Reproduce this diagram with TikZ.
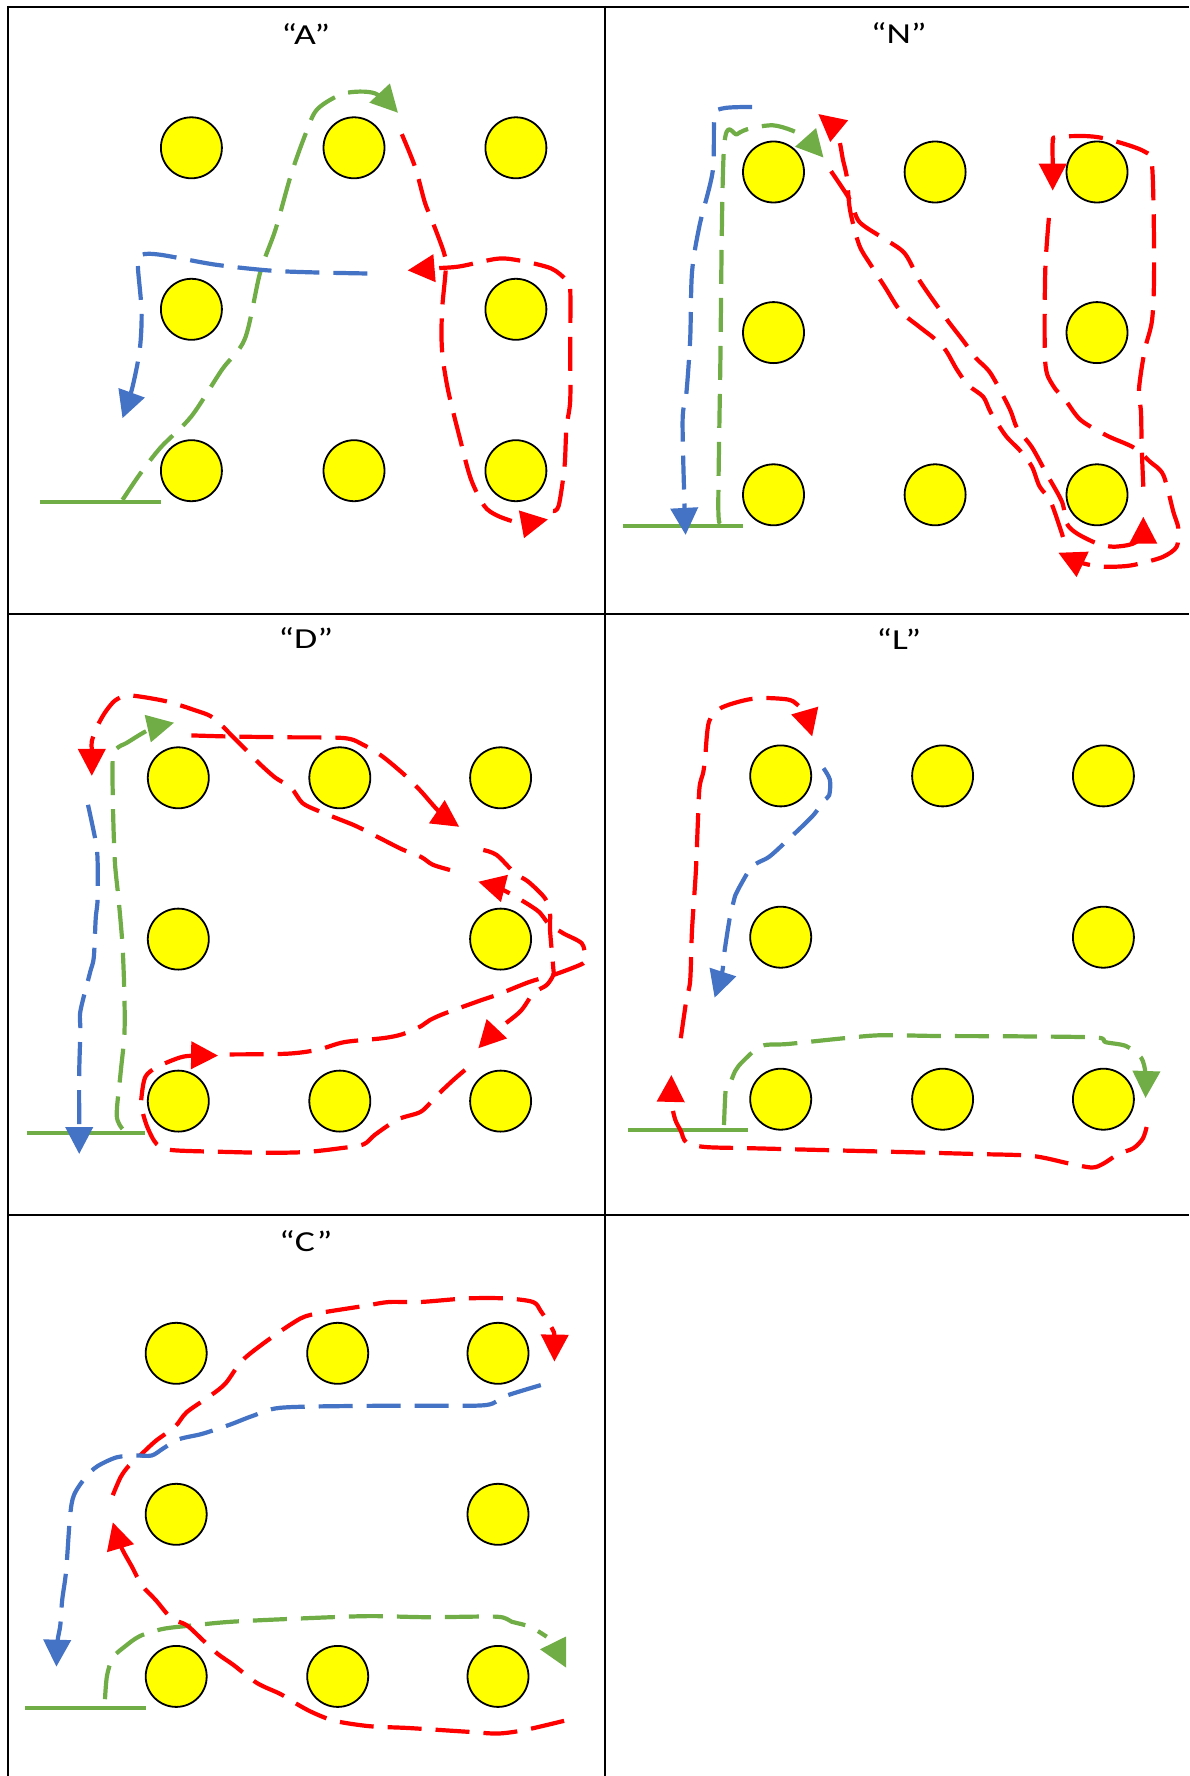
\documentclass[tikz,border=0pt]{standalone}
\usepackage{fontspec}
\setmainfont{Carlito}
\newfontfamily\titlefont[FakeStretch=1.3]{Carlito}
\usetikzlibrary{arrows.meta}
\definecolor{pathred}{RGB}{255,0,0}
\definecolor{pathgreen}{RGB}{112,173,71}
\definecolor{pathblue}{RGB}{68,114,196}
\definecolor{dotyellow}{RGB}{255,255,0}
\begin{document}
\begin{tikzpicture}[x=1pt,y=-1pt,
  dot/.style={circle,draw=black,line width=1.8pt,fill=dotyellow,minimum size=61pt,inner sep=0pt},
  title/.style={font=\titlefont\fontsize{29}{31}\selectfont,anchor=base,inner sep=0pt},
  stroke/.style={line width=4.2pt,dash pattern=on 34pt off 14pt,line cap=butt,line join=round},
  tip/.style={-{Triangle[length=27pt,width=27pt]}},
  redpath/.style={stroke,pathred},
  greenpath/.style={stroke,pathgreen},
  bluepath/.style={stroke,pathblue},
  baseline/.style={pathgreen,line width=4pt},
  grid/.style={black,line width=2pt},
  curve/.style={smooth,tension=0.5}
]
\useasboundingbox (0,0) rectangle (1189,1776);

% table rules
\draw[grid] (8,7) -- (1189,7);
\draw[grid] (8,613.5) -- (1189,613.5);
\draw[grid] (8,1215) -- (1189,1215);
\draw[grid] (8,6) -- (8,1776);
\draw[grid] (604.5,6) -- (604.5,1776);

% letter titles
\node[title] (tA) at (305.8,44.3) {“A”};
\node[title] (tN) at (898.7,43.8) {“N”};
\node[title] (tD) at (305.8,648.6) {“D”};
\node[title] (tL) at (898.7,649) {“L”};
\node[title] (tC) at (305.8,1251) {“C”};

% dot grids (centre dot left out)
\foreach \cell/\xa/\xb/\xc/\ya/\yb/\yc in {
    a/191.4/354/515.9/147.8/309.3/470.7,
    n/773.5/935.1/1097/172/332.6/494.8,
    d/178.3/339.8/500.6/777.8/939.1/1101.1,
    l/780.7/942.6/1103.4/775.9/937.2/1099.2,
    c/176.2/337.7/498/1353.3/1514.3/1676.4}{
  \node[dot] (\cell11) at (\xa,\ya) {};
  \node[dot] (\cell12) at (\xb,\ya) {};
  \node[dot] (\cell13) at (\xc,\ya) {};
  \node[dot] (\cell21) at (\xa,\yb) {};
  \node[dot] (\cell23) at (\xc,\yb) {};
  \node[dot] (\cell31) at (\xa,\yc) {};
  \node[dot] (\cell32) at (\xb,\yc) {};
  \node[dot] (\cell33) at (\xc,\yc) {};
}

% ---------- A ----------
\draw[baseline] (40.2,501.9) -- (160.7,501.9);
\draw[greenpath,tip] plot[curve] coordinates {(122.5,499.9) (140,474) (160.7,447.4) (191.4,416.3) (222,369.6) (245,338.5) (260.2,272.3) (275.5,229.5) (290.9,175.1) (306.2,132.3) (317.6,108.9) (344.4,93.4) (375,93.4) (398,112.8)};
\draw[redpath,tip] plot[curve] coordinates {(401.8,134.2) (415.2,167.3) (424.8,202.3) (432.5,221.7) (444,252.9) (445.8,268.4) (442,311.2) (442,350.1) (447.8,389) (459.2,435.7) (470.7,478.5) (484.1,505.7) (496,515) (512.8,521.3) (525,523) (548,519.4)};
\draw[redpath,tip] plot[curve] coordinates {(553,511) (558.7,505.7) (564.5,466.8) (566.4,428) (570.2,400.7) (570.2,350.1) (570.2,287.9) (566.4,280.1) (551.1,268.4) (520.5,260.7) (497.5,258.7) (459.2,266.5) (432.5,268.4) (407.6,270.4)};
\draw[bluepath,tip] plot[curve] coordinates {(367.4,273.5) (310,272.3) (267.9,270.4) (214.3,264.5) (160.7,254.8) (141.6,254.8) (137.8,264.5) (141.6,311.2) (139.7,350.1) (132,389) (122.5,418.2)};

% ---------- N ----------
\draw[baseline] (622.5,526) -- (742.7,526);
\draw[bluepath,tip] plot[curve] coordinates {(752.1,107) (724,108.2) (714.6,116.7) (712.7,171.2) (699.5,225.6) (692,272.3) (690.2,338.5) (686.4,392.9) (682.6,420.1) (684.5,505.7) (685.6,534.9)};
\draw[greenpath,tip] plot[curve] coordinates {(720.2,523.2) (718.3,505.7) (720.2,373.5) (724,147.8) (737.1,134.2) (750.3,128.4) (772.8,125.3) (791.6,130.3) (805,138) (823.5,157.6)};
\draw[redpath,tip] plot[curve] coordinates {(831,171.2) (850,200) (859.2,221.7) (881.7,237.3) (904.3,252.9) (919.3,280.1) (938.1,307.3) (949.4,322.9) (964.4,342.3) (975.7,357.9) (990.7,373.5) (1009.5,408.5) (1017,427.9) (1032,447.4) (1047,474.6) (1062,501.9) (1066.7,523.3) (1076.7,533.3) (1096.7,543.3) (1113,546.7) (1132,544) (1141.7,536) (1143.3,516.7)};
\draw[redpath,tip] plot[curve] coordinates {(1143.3,486.7) (1141.7,446.7) (1141,412.4) (1139,389) (1144.7,350.1) (1152.2,319) (1154.1,264.5) (1152.2,167.3) (1144.7,151.7) (1110.9,140) (1088.4,136.2) (1056.4,137) (1052.7,142) (1052.7,163.4) (1052.7,190.6)};
\draw[redpath,tip] plot[curve] coordinates {(1048.9,217.9) (1045.2,272.3) (1045.2,361.8) (1052.7,385.1) (1065.8,400.7) (1080.8,420.1) (1107.1,435.7) (1133.4,447.4) (1150,461.7) (1163.3,475) (1173.3,511.7) (1178.3,528.3) (1176.7,546.7) (1163.3,556.7) (1143.3,562.7) (1126.7,566) (1103.3,566.7) (1082,563) (1058.3,552.7)};
\draw[redpath,tip] plot[curve] coordinates {(1063,537) (1050.8,501.9) (1039.5,486.3) (1032,466.8) (1020.7,451.3) (1005.7,435.7) (990.7,412.4) (983.2,396.8) (968.1,385.1) (956.9,369.6) (945.6,350.1) (934.3,338.5) (919.3,326.8) (900.5,311.2) (885.5,287.9) (870.5,264.5) (859.2,245.1) (850,210) (847,178) (843,160) (836.7,132.7) (818.3,114)};

% ---------- D ----------
\draw[baseline] (26.8,1132.8) -- (145.4,1132.8);
\draw[bluepath,tip] plot[curve] coordinates {(88,804.8) (95.7,841.5) (97.6,860.8) (97.6,899.4) (95.7,918.6) (93.8,957.2) (90,972.7) (80.4,1011.2) (80.4,1030.5) (79.2,1073) (79.2,1123.1) (79.2,1154)};
\draw[greenpath,tip] plot[curve] coordinates {(122.5,1128.9) (116.7,1115.4) (120.6,1073) (124.4,1034.4) (124.4,995.8) (122.5,945.6) (118.6,899.4) (114.8,860.8) (112.9,802.9) (112.9,756.6) (118.6,747) (126.3,743.1) (149.3,729.6) (174.1,722.7)};
\draw[redpath,tip] plot[curve] coordinates {(191.4,735.4) (229.6,736.5) (287,737.3) (344.4,738.1) (363.6,745) (382.7,756.6) (405.7,775.9) (421,791.3) (440,812.5) (459.2,826.8)};
\draw[redpath,tip] plot[curve] coordinates {(483.3,850) (496.7,855) (515,873.3) (528.3,881.7) (545,898.3) (550,913.3) (550,930) (553.3,968.3) (553.3,975) (546.7,985) (533.3,993.3) (520,1011.7) (495,1031.7) (478.3,1048.3)};
\draw[redpath,tip] plot[curve] coordinates {(465,1070) (453.3,1080) (436.3,1096.1) (421,1111.6) (398,1119.3) (375,1134.7) (363.6,1144.3) (340.6,1148.2) (306.2,1152) (267.9,1152.8) (229.6,1152) (172.2,1150.1) (156.9,1144.3) (147.3,1127) (141.6,1107.7) (141.6,1096.1) (145.4,1076.8) (156.9,1067.1) (179.9,1057.5) (194.2,1055.6) (218.1,1055.6)};
\draw[redpath,tip] plot[curve] coordinates {(229.6,1054.4) (287,1053.7) (317.6,1049.8) (344.4,1042.1) (382.7,1038.2) (401.8,1034.4) (420,1026.7) (430,1020) (445,1013.3) (481.7,1000) (496.7,995) (530,981.7) (553.3,975) (583.3,963.3) (585,956.7) (581.7,943.3) (563.3,933.3) (548.3,923.3) (536.7,910) (503.3,890) (478.3,881.7)};
\draw[redpath,tip] plot[curve] coordinates {(450,870) (432.5,864.6) (421,856.9) (401.8,849.2) (378.9,837.6) (355.9,826) (336.8,818.3) (317.6,810.6) (302.3,802.9) (290.9,787.5) (275.5,777.8) (260.2,764.3) (248.8,752.7) (233.4,737.3) (222,725.7) (210.5,716.1) (195.2,710.3) (168.4,701.8) (141.6,696.8) (126.3,695.6) (114.8,700.7) (105.2,712.2) (97.6,725.7) (91.8,741.2) (91.8,750.8) (91.8,775.9)};

% ---------- L ----------
\draw[baseline] (628.2,1130) -- (748.4,1130);
\draw[greenpath,tip] plot[curve] coordinates {(724,1125) (725.8,1088.4) (729.6,1084.5) (735.2,1071) (742.8,1061.4) (761.5,1046) (787.8,1044) (844.2,1038.2) (881.7,1035.2) (938.1,1036) (1013.2,1036.3) (1095.9,1037.5) (1105.3,1042.1) (1125.9,1046) (1141,1057.5) (1145.5,1073.7) (1145.5,1098)};
\draw[redpath,tip] plot[curve] coordinates {(1146.6,1127) (1142.8,1138.6) (1133.4,1148.2) (1118.4,1154) (1103.4,1163.6) (1092.1,1167.5) (1069.6,1163.6) (1032,1155.9) (975.7,1154) (900.5,1152) (825.4,1150.1) (750.3,1148.2) (705.2,1147) (686.4,1142.4) (680.8,1130.8) (675.1,1119.3) (671.4,1100.7) (671.4,1074.9)};
\draw[redpath,tip] plot[curve] coordinates {(680.8,1038.2) (686.4,999.7) (690.2,980.4) (692,930.2) (695.8,872.3) (697.7,826) (699.5,787.5) (703.3,772) (705.2,756.6) (708.9,721.9) (720.2,708.4) (742.8,700.7) (761.5,698) (787.8,699.5) (797.2,704.5) (805.1,714.6) (812.2,736.5)};
\draw[bluepath,tip] plot[curve] coordinates {(823.5,768.2) (829.9,779.8) (829.2,795.2) (823.5,801) (812.2,816.4) (784.1,843.4) (769,856.9) (757.8,862.7) (750.3,868.5) (739,887.8) (735.2,895.5) (729.6,918.6) (727.7,930.2) (724,955) (722.1,972.7) (714.6,997.7)};

% ---------- C ----------
\draw[baseline] (25.3,1708) -- (145.9,1708);
\draw[greenpath] plot[curve] coordinates {(105,1699.2) (107,1675.7) (112.8,1657.7) (124.5,1646.8) (140,1636) (163.4,1628.8) (194.5,1625.2) (233.4,1621.6) (311.2,1618) (369.6,1616.1) (427.9,1617.2) (496.7,1616.7) (511.7,1621.7) (530,1626.7) (546.7,1636.7)};
\fill[pathgreen] (540,1649.3) -- (566,1636.5) -- (566,1667.5) -- cycle;
\draw[redpath,tip] plot[curve] coordinates {(564.1,1720.8) (525.2,1729.9) (498,1733.5) (466.8,1731.7) (408.5,1728) (369.6,1726.2) (334.6,1720.8) (311.2,1711.8) (291.8,1701) (280.1,1693.8) (256.8,1682.9) (233.4,1664.9) (217.9,1654) (202.3,1639.6) (186.7,1625.2) (171.2,1618) (155.6,1599.9) (142,1585.5) (132.3,1567.4) (120.6,1545.8) (112.8,1522.3)};
\draw[redpath,tip] plot[curve] coordinates {(112.8,1495.2) (120.6,1477.2) (128.4,1466.3) (140,1455.5) (155.6,1441) (175.1,1426.6) (186.7,1412.2) (210.1,1395.9) (225.6,1383.3) (241.2,1361.6) (260.7,1345.4) (291.8,1323.7) (311.2,1314.7) (365.7,1305.7) (389,1302) (420.2,1302) (466.8,1298.4) (505.7,1298.4) (533,1302) (540.8,1311.1) (552.4,1329.1) (554.4,1336.4) (554.4,1361.6)};
\draw[bluepath,tip] plot[curve] coordinates {(540.8,1385.1) (505.7,1395.9) (486.3,1405) (427.9,1405.7) (350.1,1406) (280.1,1407.8) (252.9,1415.8) (229.5,1424.8) (202.3,1433.8) (179,1439.2) (163.4,1448.3) (151.7,1455.5) (136.2,1455.5) (116.7,1457.3) (97.3,1466.3) (85.6,1477.2) (73.9,1495.2) (70,1516.9) (66.1,1571) (62.2,1599.9) (60.3,1625.2) (57.5,1641.4) (56.4,1666.7)};
\end{tikzpicture}
\end{document}
